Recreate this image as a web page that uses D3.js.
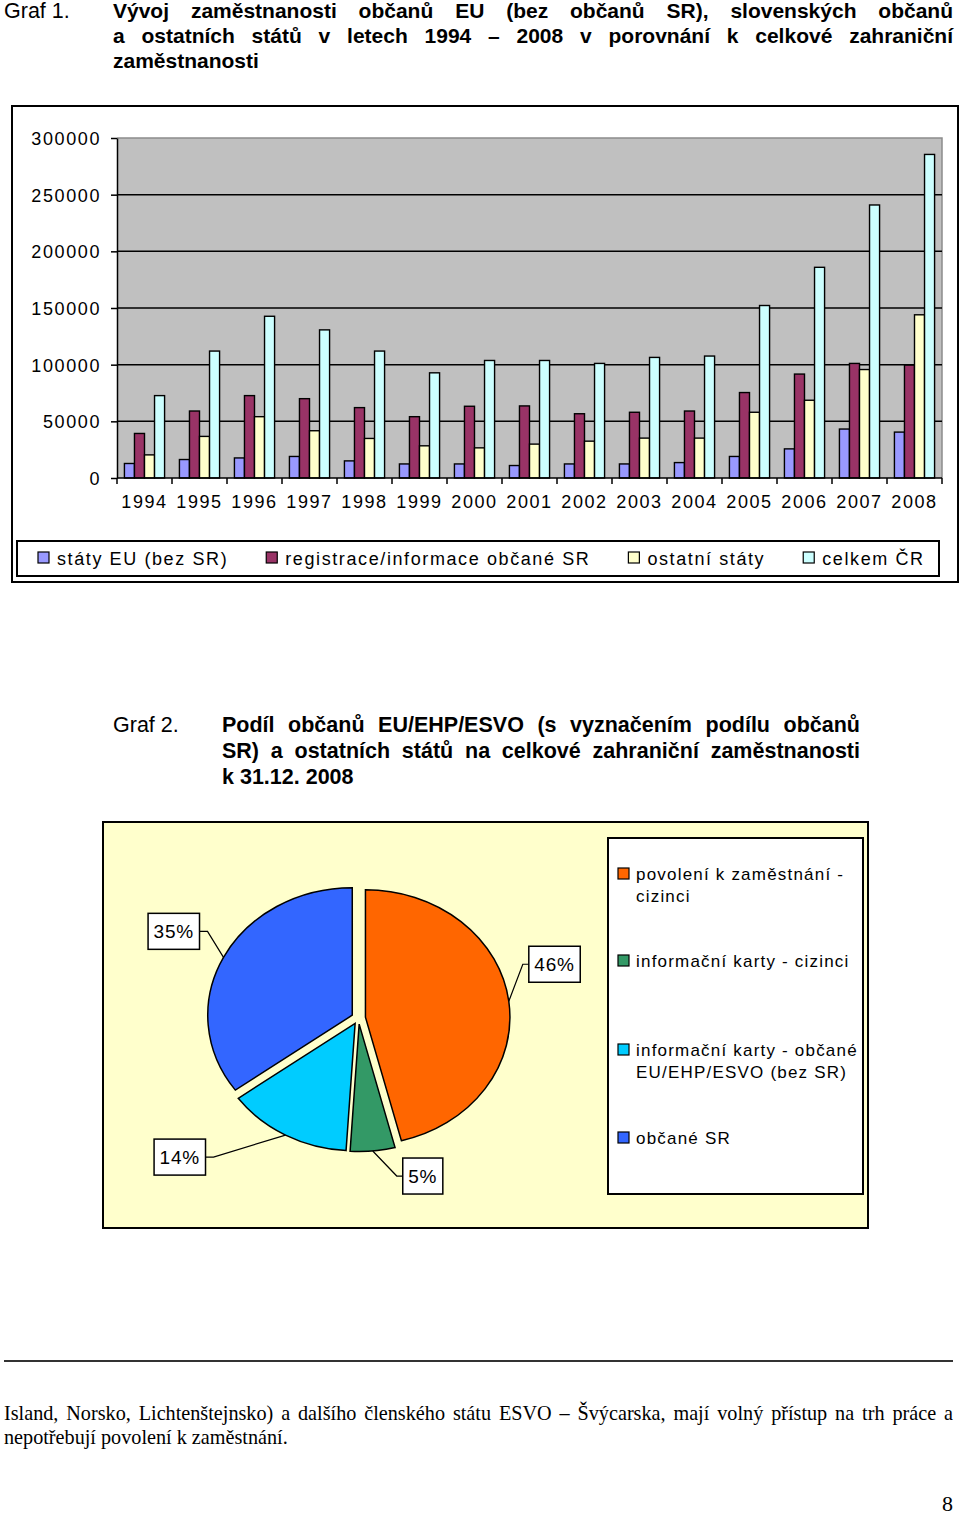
<!DOCTYPE html>
<html><head><meta charset="utf-8">
<script src="https://cdn.jsdelivr.net/npm/d3@7/dist/d3.min.js"></script>
<style>
html,body{margin:0;padding:0;background:#fff;}
svg{display:block;}
</style></head>
<body>
<svg id="page" width="960" height="1516"></svg>
<script>
// ---------- DATA ----------
const years = ["1994","1995","1996","1997","1998","1999","2000","2001","2002","2003","2004","2005","2006","2007","2008"];
const euStates    = [12800,16300,17700,19000,15100,12400,12400,11000,12400,12400,13600,19000,25700,43200,40500];
const srCitizens  = [39300,59100,72700,70000,62100,54100,63300,63600,56700,58000,59100,75400,91700,101100,99600];
const otherStates = [20400,36700,54100,41700,34900,28400,26600,29900,32500,35200,35200,58000,68600,95700,144000];
const totalCR     = [72700,112000,142700,130700,112000,92800,103700,103700,101100,106400,107600,152200,185900,240900,285500];
const barSeriesNames = ["státy EU (bez SR)","registrace/informace občané SR","ostatní státy","celkem ČR"];
const yTickValues = [0,50000,100000,150000,200000,250000,300000];

const pieCategories = ["povolení k zaměstnání - cizinci","informační karty - cizinci","informační karty - občané EU/EHP/ESVO (bez SR)","občané SR"];
const pieValues = [46,5,14,35];
const pieLegendLines = [["povolení k zaměstnání -","cizinci"],["informační karty - cizinci"],["informační karty - občané","EU/EHP/ESVO (bez SR)"],["občané SR"]];

// ---------- STYLE ----------
const SANS = "'Liberation Sans', Arial, sans-serif";
const SERIF = "'Liberation Serif', 'Times New Roman', serif";
const barColors = ["#9999ff","#993366","#ffffcc","#ccffff"];
const pieColors = ["#ff6600","#339966","#00ccff","#3366ff"];

const svg = d3.select("#page");
svg.append("rect").attr("width",960).attr("height",1516).attr("fill","#fff");

// justified line helper
function justify(words, x0, x1, y, attrs, doJustify=true){
  const g = svg.append("g");
  const mk = s => { const t = g.append("text").text(s); for (const k in attrs) t.style(k, attrs[k]); return t; };
  const nodes = words.map(w => mk(w).attr("y", y));
  const widths = nodes.map(n => n.node().getComputedTextLength());
  const total = d3.sum(widths);
  const a1 = mk("a a"), a2 = mk("aa");
  const spaceW = a1.node().getComputedTextLength() - a2.node().getComputedTextLength();
  a1.remove(); a2.remove();
  const gap = (doJustify && words.length>1) ? (x1 - x0 - total)/(words.length-1) : spaceW;
  let x = x0;
  nodes.forEach((n,i)=>{ n.attr("x", x); x += widths[i] + gap; });
}

// ---------- GRAF 1 TITLE ----------
svg.append("text").text("Graf 1.").attr("x",4).attr("y",18)
  .style("font-family",SANS).style("font-size","21.5px").attr("fill","#000");
const t1 = {"font-family":SANS,"font-size":"21px","font-weight":"bold","fill":"#000"};
justify("Vývoj zaměstnanosti občanů EU (bez občanů SR), slovenských občanů".split(" "),113,953,18,t1);
justify("a ostatních států v letech 1994 – 2008 v porovnání k celkové zahraniční".split(" "),113,953,43,t1);
justify(["zaměstnanosti"],113,953,68,t1,false);

// ---------- GRAF 1 BOX ----------
svg.append("rect").attr("x",12).attr("y",106).attr("width",946).attr("height",476)
  .attr("fill","#fff").attr("stroke","#000").attr("stroke-width",2);

const plot = {l:117, r:942, t:138, b:478};
const x0 = d3.scaleBand().domain(years).range([plot.l,plot.r]).paddingInner(0.27).paddingOuter(0.135);
const x1 = d3.scaleBand().domain(d3.range(4)).range([0,x0.bandwidth()]);
const y = d3.scaleLinear().domain([0,300000]).range([plot.b,plot.t]);

svg.append("rect").attr("x",plot.l).attr("y",plot.t).attr("width",plot.r-plot.l).attr("height",plot.b-plot.t)
  .attr("fill","#c0c0c0");
svg.append("path").attr("d",`M${plot.l},${plot.t}H${plot.r}V${plot.b}`).attr("fill","none").attr("stroke","#8c8c8c").attr("stroke-width",1.5);
svg.append("g").selectAll("line").data(yTickValues.filter(v=>v>0 && v<300000)).join("line")
  .attr("x1",plot.l).attr("x2",plot.r).attr("y1",d=>y(d)).attr("y2",d=>y(d))
  .attr("stroke","#000").attr("stroke-width",1.5);

// bars
const seriesArr = [euStates, srCitizens, otherStates, totalCR];
const bg = svg.append("g");
years.forEach((yr,i)=>{
  seriesArr.forEach((s,k)=>{
    bg.append("rect").attr("x",x0(yr)+x1(k)).attr("width",x1.bandwidth())
      .attr("y",y(s[i])).attr("height",y(0)-y(s[i]))
      .attr("fill",barColors[k]).attr("stroke","#000").attr("stroke-width",1.4);
  });
});

// y axis
const yAx = svg.append("g").attr("transform",`translate(${plot.l},0)`)
  .call(d3.axisLeft(y).tickValues(yTickValues).tickSize(6).tickSizeOuter(0).tickPadding(10).tickFormat(d3.format("d")));
yAx.select(".domain").attr("stroke","#000").attr("stroke-width",1.5);
yAx.selectAll(".tick line").attr("stroke","#000").attr("stroke-width",1.5);
yAx.selectAll(".tick text").style("font-family",SANS).style("font-size","18px").style("letter-spacing","1.6px").attr("fill","#000").attr("dy","0.36em");

// x axis
const xAx = svg.append("g").attr("transform",`translate(0,${plot.b})`)
  .call(d3.axisBottom(x0).tickSize(0).tickPadding(17));
xAx.select(".domain").remove();
xAx.selectAll(".tick text").style("font-family",SANS).style("font-size","18px").style("letter-spacing","1.6px").attr("fill","#000");
svg.append("line").attr("x1",plot.l).attr("x2",plot.r).attr("y1",plot.b).attr("y2",plot.b).attr("stroke","#000").attr("stroke-width",1.5);
svg.append("g").selectAll("line").data(d3.range(years.length+1)).join("line")
  .attr("x1",d=>plot.l + d*x0.step()).attr("x2",d=>plot.l + d*x0.step())
  .attr("y1",plot.b).attr("y2",plot.b+6).attr("stroke","#000").attr("stroke-width",1.5);

// legend 1
svg.append("rect").attr("x",17).attr("y",541).attr("width",922).attr("height",35)
  .attr("fill","#fff").attr("stroke","#000").attr("stroke-width",2);
let lx = 38;
barSeriesNames.forEach((name,k)=>{
  svg.append("rect").attr("x",lx).attr("y",552).attr("width",11).attr("height",11)
    .attr("fill",barColors[k]).attr("stroke","#000").attr("stroke-width",1.2);
  const t = svg.append("text").text(name).attr("x",lx+19).attr("y",565)
    .style("font-family",SANS).style("font-size","18px").style("letter-spacing","1.6px").attr("fill","#000");
  lx += 19 + t.node().getComputedTextLength() + 38;
});

// ---------- GRAF 2 TITLE ----------
svg.append("text").text("Graf 2.").attr("x",113).attr("y",732)
  .style("font-family",SANS).style("font-size","21.5px").attr("fill","#000");
const t2 = {"font-family":SANS,"font-size":"21.5px","font-weight":"bold","fill":"#000"};
justify("Podíl občanů EU/EHP/ESVO (s vyznačením podílu občanů".split(" "),222,860,732,t2);
justify("SR) a ostatních států na celkové zahraniční zaměstnanosti".split(" "),222,860,758,t2);
justify("k 31.12. 2008".split(" "),222,860,784,t2,false);

// ---------- GRAF 2 BOX ----------
svg.append("rect").attr("x",103).attr("y",822).attr("width",765).attr("height",406)
  .attr("fill","#ffffcc").attr("stroke","#000").attr("stroke-width",2);

const pc = {x:358.5, y:1018}, R = 144.5, SY = 0.882, EXP = 7;
const pie = d3.pie().sort(null).value(d=>d)(pieValues);
const arc = d3.arc().innerRadius(0).outerRadius(R);
const pieG = svg.append("g");
const pt = (a, r) => [Math.sin(a)*r, -Math.cos(a)*r*SY];
pie.forEach((s,i)=>{
  const mid = (s.startAngle+s.endAngle)/2;
  const off = pt(mid, EXP);
  pieG.append("g").attr("transform",`translate(${pc.x+off[0]},${pc.y+off[1]}) scale(1,${SY})`)
    .append("path").attr("d",arc(s)).attr("fill",pieColors[i])
    .attr("stroke","#000").attr("stroke-width",1.5).attr("vector-effect","non-scaling-stroke");
});

// pie labels (layout offsets relative to slice edge)
const labelLayout = [
  {dx:14, dy:-37, side:"left"},
  {dx:24, dy:25, side:"left"},
  {dx:-72, dy:22, side:"right"},
  {dx:-16, dy:-26, side:"right"}
];
pie.forEach((s,i)=>{
  const mid = (s.startAngle+s.endAngle)/2;
  const off = pt(mid, EXP), e = pt(mid, R);
  const ex = pc.x+off[0]+e[0], ey = pc.y+off[1]+e[1];
  const L = labelLayout[i];
  const elx = ex+L.dx, ely = ey+L.dy;
  const bx = L.side==="left" ? elx+6 : elx-8;
  const g = svg.append("g");
  const txt = g.append("text").text(pieValues[i]+"%")
    .style("font-family",SANS).style("font-size","19px").style("letter-spacing","0.8px").attr("fill","#000");
  const w = txt.node().getComputedTextLength() + 11, h = 36;
  const rx = L.side==="left" ? bx : bx - w;
  g.insert("rect","text").attr("x",rx).attr("y",ely-h/2).attr("width",w).attr("height",h)
    .attr("fill","#fff").attr("stroke","#000").attr("stroke-width",1.5);
  txt.attr("x",rx+w/2).attr("text-anchor","middle").attr("y",ely+7);
  svg.append("polyline").attr("points",`${ex},${ey} ${elx},${ely} ${bx},${ely}`)
    .attr("fill","none").attr("stroke","#000").attr("stroke-width",1.2);
});

// pie legend
svg.append("rect").attr("x",608).attr("y",838).attr("width",255).attr("height",356)
  .attr("fill","#fff").attr("stroke","#000").attr("stroke-width",2);
const legRowY = [880, 967, 1056, 1144];
pieCategories.forEach((c,i)=>{
  svg.append("rect").attr("x",618).attr("y",legRowY[i]-12).attr("width",11).attr("height",11)
    .attr("fill",pieColors[i]).attr("stroke","#000").attr("stroke-width",1.2);
  pieLegendLines[i].forEach((ln,j)=>{
    svg.append("text").text(ln).attr("x",636).attr("y",legRowY[i]+j*22)
      .style("font-family",SANS).style("font-size","17px").style("letter-spacing","1.2px").attr("fill","#000");
  });
});

// ---------- FOOTER ----------
svg.append("line").attr("x1",4).attr("x2",953).attr("y1",1361).attr("y2",1361).attr("stroke","#333").attr("stroke-width",2);
const ft = {"font-family":SERIF,"font-size":"20.2px","fill":"#000"};
justify("Island, Norsko, Lichtenštejnsko) a dalšího členského státu ESVO – Švýcarska, mají volný přístup na trh práce a".split(" "),4,953,1420,ft);
justify("nepotřebují povolení k zaměstnání.".split(" "),4,953,1444,ft,false);
svg.append("text").text("8").attr("x",953).attr("y",1511).attr("text-anchor","end")
  .style("font-family",SERIF).style("font-size","22px").attr("fill","#000");
</script>
</body></html>
